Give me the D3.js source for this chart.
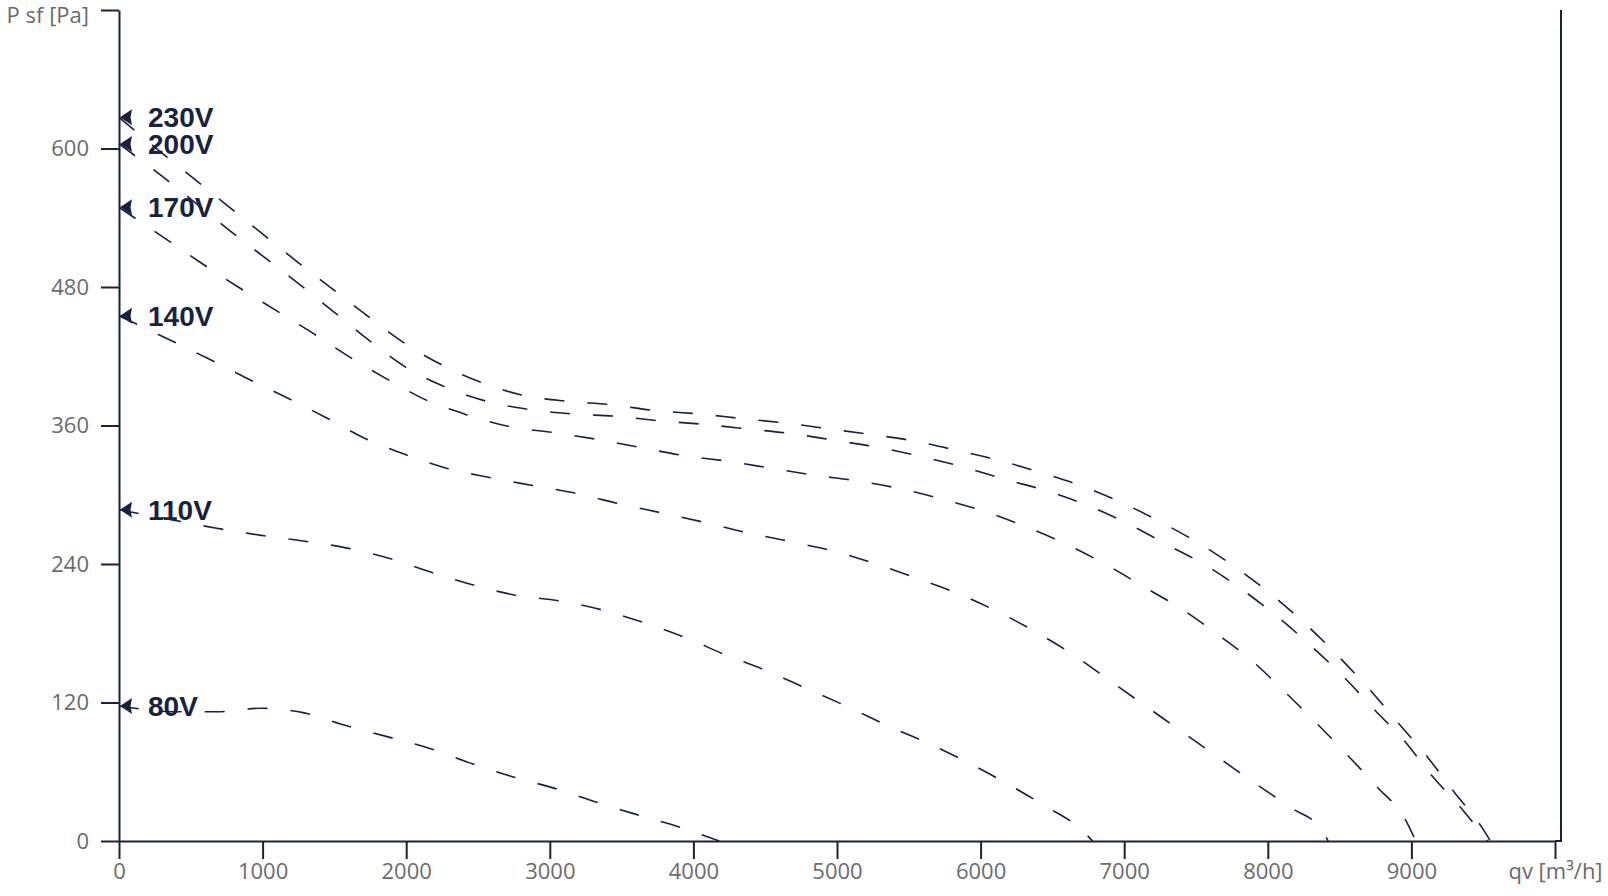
<!DOCTYPE html>
<html>
<head>
<meta charset="utf-8">
<script src="https://cdn.jsdelivr.net/npm/d3@7"></script>
<style>
  body { margin: 0; background: #fff; }
  .tick text { font-family: "Open Sans", sans-serif; font-size: 22px; fill: #6b6b6b; }
  .tick line, .domain, .frame { stroke: #18223d; stroke-width: 2; fill: none; }
  .curve { fill: none; stroke: #18223d; stroke-width: 1.6; stroke-dasharray: 20, 23; }
  .volt { font-family: "Liberation Sans", Arial, sans-serif; font-weight: bold; font-size: 28px; fill: #18223d; }
</style>
</head>
<body>
<div id="chart"></div>
<script>
// fan curves, one pair of arrays per voltage (qv in m3/h, Psf in Pa)
var voltages = ["230V", "200V", "170V", "140V", "110V", "80V"];

var qv230 = [0, 300, 530, 770, 1010, 1250, 1490, 1730, 1980, 2240, 2530, 2820, 3120, 3430, 3730, 4040, 4340, 4650, 4950, 5250, 5560, 5850, 6150, 6450, 6740, 7020, 7290, 7560, 7810, 8050, 8280, 8500, 8710, 8910, 9110, 9300, 9490, 9550];
var ps230 = [627, 596, 573, 549, 525, 501, 478, 455, 432, 413, 397, 386, 381, 378, 373, 370, 366, 362, 357, 352, 346, 338, 329, 318, 306, 291, 274, 255, 234, 211, 186, 159, 131, 102, 73, 42, 12, 0];

var qv200 = [0, 300, 780, 1020, 1270, 1500, 1740, 1990, 2260, 2560, 2850, 3160, 3460, 3770, 4070, 4380, 4680, 4990, 5290, 5590, 5880, 6180, 6470, 6760, 7040, 7310, 7580, 7830, 8080, 8310, 8530, 8740, 8950, 9140, 9350, 9530];
var ps200 = [604, 576, 528, 505, 481, 458, 434, 411, 394, 381, 374, 370, 368, 364, 361, 357, 353, 347, 341, 333, 324, 313, 303, 290, 274, 256, 238, 217, 193, 168, 142, 114, 87, 57, 28, 0];

var qv170 = [0, 310, 570, 830, 1090, 1350, 1610, 1870, 2140, 2430, 2720, 3020, 3330, 3630, 3930, 4240, 4540, 4840, 5140, 5450, 5740, 6040, 6320, 6600, 6880, 7140, 7400, 7650, 7900, 8120, 8340, 8550, 8760, 8960, 9030];
var ps170 = [549, 523, 501, 480, 460, 440, 419, 400, 382, 369, 359, 354, 348, 341, 334, 329, 323, 317, 312, 305, 296, 285, 272, 257, 239, 220, 201, 179, 155, 129, 102, 75, 47, 18, 0];

var qv140 = [0, 340, 620, 890, 1170, 1440, 1710, 1990, 2280, 2580, 2880, 3190, 3490, 3790, 4080, 4380, 4690, 4980, 5270, 5570, 5850, 6130, 6400, 6650, 6910, 7160, 7410, 7660, 7910, 8160, 8380, 8420];
var ps140 = [455, 435, 418, 401, 384, 367, 349, 335, 323, 315, 308, 301, 292, 284, 276, 267, 259, 251, 240, 227, 214, 198, 180, 161, 138, 116, 94, 72, 50, 29, 9, 0];

var qv110 = [0, 380, 680, 980, 1280, 1580, 1880, 2170, 2460, 2760, 3070, 3370, 3660, 3950, 4210, 4520, 4790, 5080, 5350, 5630, 5910, 6180, 6440, 6700, 6780];
var ps110 = [287, 278, 271, 265, 260, 254, 245, 233, 222, 213, 208, 200, 189, 176, 162, 147, 132, 116, 100, 85, 68, 50, 31, 10, 0];

var qv80 = [0, 400, 680, 990, 1290, 1580, 1880, 2170, 2460, 2760, 3050, 3340, 3630, 3930, 4180];
var ps80 = [117, 112, 112, 115, 111, 100, 90, 80, 67, 55, 45, 33, 22, 11, 0];

var xTicks = [0, 1000, 2000, 3000, 4000, 5000, 6000, 7000, 8000, 9000, 10000];
var yTicks = [0, 120, 240, 360, 480, 600, 720];
var xTitle = "qv [m³/h]";
var yTitle = "P sf [Pa]";

var svgWidth = 1608;
var svgHeight = 896;

var margin = {
  top: 10,
  right: 53,
  bottom: 55,
  left: 119
};

var width = svgWidth - margin.left - margin.right;
var height = svgHeight - margin.top - margin.bottom;

var svg = d3.select("#chart")
  .append("svg")
  .attr("width", svgWidth)
  .attr("height", svgHeight);

var chartGroup = svg.append("g")
  .attr("transform", `translate(${margin.left}, ${margin.top})`);

var xScale = d3.scaleLinear().domain([0, 10000]).range([0, width]);
var yScale = d3.scaleLinear().domain([0, 720]).range([height, 0]);

// frame on the right side
chartGroup.append("path")
  .attr("class", "frame")
  .attr("d", `M${width},${height}H${width + 6}V0`);

var bottomAxis = d3.axisBottom(xScale)
  .tickValues(xTicks)
  .tickSize(18)
  .tickSizeOuter(0)
  .tickPadding(4)
  .tickFormat(d => d === 10000 ? xTitle : d);

var leftAxis = d3.axisLeft(yScale)
  .tickValues(yTicks)
  .tickSize(18)
  .tickSizeOuter(0)
  .tickPadding(12)
  .tickFormat(d => d === 720 ? yTitle : d);

chartGroup.append("g")
  .attr("transform", `translate(0, ${height})`)
  .call(bottomAxis);

var yAxisGroup = chartGroup.append("g")
  .call(leftAxis);

chartGroup.selectAll(".tick text").attr("font-family", null).attr("font-size", null);

// the axis title sits a bit lower than its tick
yAxisGroup.selectAll(".tick text")
  .filter(d => d === 720)
  .attr("dy", "0.55em");

// series from the arrays
var series = [
  {name: voltages[0], qv: qv230, ps: ps230},
  {name: voltages[1], qv: qv200, ps: ps200},
  {name: voltages[2], qv: qv170, ps: ps170},
  {name: voltages[3], qv: qv140, ps: ps140},
  {name: voltages[4], qv: qv110, ps: ps110},
  {name: voltages[5], qv: qv80, ps: ps80}
];

var line = d3.line()
  .x(d => xScale(d[0]))
  .y(d => yScale(d[1]))
  .curve(d3.curveMonotoneX);

chartGroup.selectAll(".curve")
  .data(series)
  .enter()
  .append("path")
  .attr("class", "curve")
  .attr("d", s => line(d3.zip(s.qv, s.ps)));

// arrow markers + voltage labels at the start of each curve
chartGroup.selectAll(".marker")
  .data(series)
  .enter()
  .append("path")
  .attr("class", "marker")
  .attr("fill", "#18223d")
  .attr("d", s => {
    var y0 = yScale(s.ps[0]);
    return `M1,${y0}L13,${y0 - 8}L11.5,${y0}L13,${y0 + 8}Z`;
  });

chartGroup.selectAll(".volt")
  .data(series)
  .enter()
  .append("text")
  .attr("class", "volt")
  .attr("x", 29)
  .attr("y", s => yScale(s.ps[0]))
  .attr("dy", "0.35em")
  .text(s => s.name);
</script>
</body>
</html>
